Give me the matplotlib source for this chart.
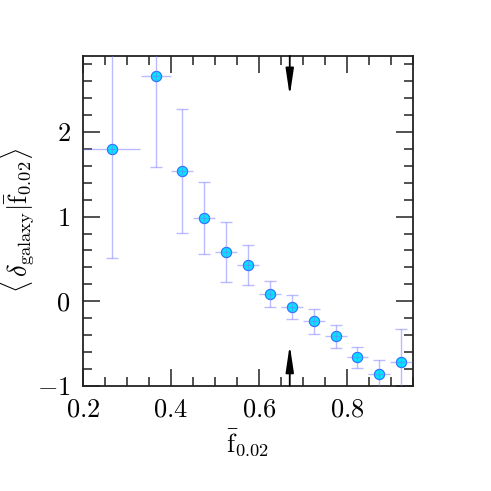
import matplotlib
matplotlib.use("Agg")
import matplotlib.pyplot as plt
from matplotlib.ticker import MultipleLocator

plt.rcParams['mathtext.fontset'] = 'cm'
plt.rcParams['font.family'] = 'serif'
plt.rcParams['font.serif'] = ['cmr10', 'DejaVu Serif']
plt.rcParams['axes.formatter.use_mathtext'] = True

# data
f_bar = [0.265, 0.365, 0.426, 0.475, 0.524, 0.574, 0.624, 0.674, 0.724, 0.774, 0.824, 0.874, 0.924]
f_halfwidth = [0.065, 0.034, 0.025, 0.024, 0.025, 0.025, 0.025, 0.025, 0.025, 0.025, 0.025, 0.025, 0.025]
delta = [1.795, 2.663, 1.539, 0.982, 0.584, 0.426, 0.083, -0.071, -0.240, -0.414, -0.663, -0.856, -0.722]
delta_lo = [0.513, 1.586, 0.809, 0.553, 0.230, 0.189, -0.071, -0.217, -0.386, -0.552, -0.788, -1.02, -1.11]
delta_hi = [3.08, 3.74, 2.277, 1.413, 0.935, 0.659, 0.241, 0.075, -0.090, -0.284, -0.540, -0.693, -0.331]
arrow_x = 0.67

fig = plt.figure(figsize=(4.91, 4.91), dpi=100)
ax = fig.add_axes([0.169, 0.2145, 0.672, 0.6715])

yerr = [[d - l for d, l in zip(delta, delta_lo)], [h - d for d, h in zip(delta, delta_hi)]]

ax.plot(f_bar, delta, 'o', ms=7.4, mfc='#00e8ff', mec='#2a6cff', mew=0.8, zorder=3, clip_on=False)
ax.errorbar(f_bar, delta, yerr=yerr, fmt='none', ecolor='#7878ff', elinewidth=1.0,
            capsize=4, capthick=1.0, alpha=0.5, zorder=4)
ax.errorbar(f_bar, delta, xerr=f_halfwidth, fmt='none', ecolor='#7878ff', elinewidth=1.0,
            capsize=0, alpha=0.5, zorder=4)

ax.set_xlim(0.2, 0.95)
ax.set_ylim(-1, 2.9)

arrowprops = dict(arrowstyle='-|>,head_length=1.6,head_width=0.24', lw=1.3, color='black',
                  shrinkA=0, shrinkB=0)
ax.annotate('', xy=(arrow_x, 2.43), xytext=(arrow_x, 2.9), arrowprops=arrowprops)
ax.annotate('', xy=(arrow_x, -0.52), xytext=(arrow_x, -1.0), arrowprops=arrowprops)

ax.xaxis.set_major_locator(MultipleLocator(0.2))
ax.xaxis.set_minor_locator(MultipleLocator(0.05))
ax.yaxis.set_major_locator(MultipleLocator(1))
ax.yaxis.set_minor_locator(MultipleLocator(0.2))
ax.tick_params(which='both', direction='in', top=True, right=True, width=1.2, color='#333333')
ax.tick_params(which='major', length=12, labelsize=19, pad=9)
ax.tick_params(which='minor', length=6.5)
for s in ax.spines.values():
    s.set_linewidth(1.3)
    s.set_color('#222222')

ax.set_xlabel(r'$\bar{\rm f}_{0.02}$', fontsize=19)
ax.set_ylabel(r'$\langle\,\delta_{\rm galaxy}|\bar{\rm f}_{0.02}\rangle$', fontsize=19)
ax.xaxis.set_label_coords(0.5, -0.125)
ax.yaxis.set_label_coords(-0.14, 0.5)

fig.savefig('out.png', dpi=100)
